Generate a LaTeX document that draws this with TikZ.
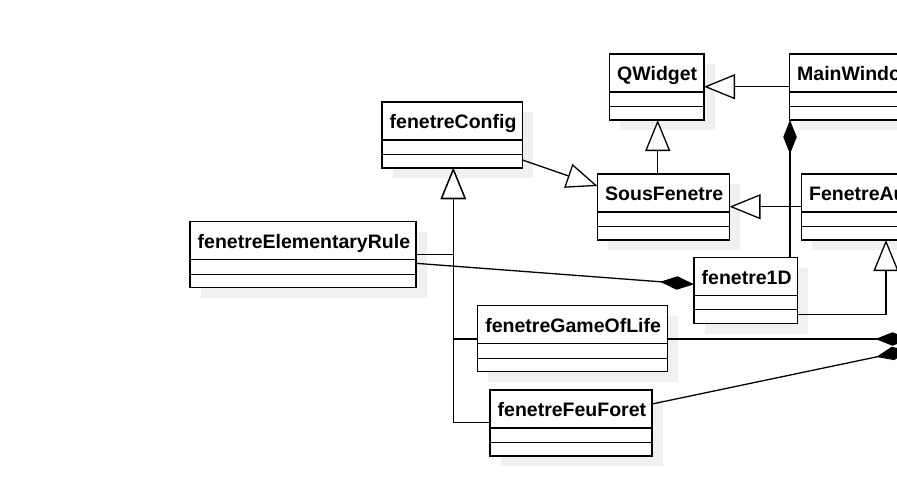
\documentclass[tikz,border=0pt]{standalone}
\usepackage{fontspec}
\setmainfont{Liberation Sans}
\usetikzlibrary{arrows.meta}
\definecolor{shadowc}{HTML}{F0F0F0}
\newcommand{\umlclass}[5]{%
  \fill[shadowc] ({#2+10.5},{#3+10.3}) rectangle ({#4+10.5},{#3+76.3});
  \node[clsbox, anchor=north west, minimum width={#4-#2}] (#1) at (#2,#3) {};
  \draw[lw] (#2,{#3+38}) -- (#4,{#3+38});
  \draw[lw] (#2,{#3+52.5}) -- (#4,{#3+52.5});
  \node[clstitle] (#1-t) at ({#2+7.5},{#3+26.8}) {#5};
}
\begin{document}
\begin{tikzpicture}[x=1pt,y=-1pt,
  lw/.style={line width=1.3pt},
  clsbox/.style={draw, fill=white, line width=1.3pt, rectangle, inner sep=0pt, outer sep=0pt, minimum height=66pt},
  clstitle/.style={anchor=base west, inner sep=0pt, font=\fontsize{19.5}{23}\selectfont\bfseries},
  inh/.style={line width=1.3pt, -{Triangle[fill=white, length=31pt, width=25pt]}},
  comp/.style={line width=1.3pt, -{Diamond[fill=black, length=34pt, width=13.5pt]}},
]
\useasboundingbox (0,0) rectangle (897,477);
\clip (0,0) rectangle (897,477);

\umlclass{QWidget}{609.5}{54}{704}{QWidget}
\umlclass{MainWindow}{789.5}{54}{990}{MainWindow}
\umlclass{fenetreConfig}{382}{102}{522.5}{fenetreConfig}
\umlclass{SousFenetre}{597.5}{174}{729.5}{SousFenetre}
\umlclass{FenetreAutomate}{801.5}{174}{1010}{FenetreAutomate}
\umlclass{fenetreElementaryRule}{190}{221.7}{416}{fenetreElementaryRule}
\umlclass{fenetre1D}{694}{257.3}{797.5}{fenetre1D}
\umlclass{fenetreGameOfLife}{477.7}{305.7}{667.3}{fenetreGameOfLife}
\umlclass{fenetreFeuForet}{490}{390}{652}{fenetreFeuForet}

\coordinate (offA) at (909.5,339);
\coordinate (offB) at (909.5,350);

\draw[inh] (MainWindow.west |- 0,86.7) -- (QWidget.east |- 0,86.7);
\draw[inh] (SousFenetre.north -| 657.7,0) -- (QWidget.south -| 657.7,0);
\draw[inh] (FenetreAutomate.west |- 0,206.7) -- (SousFenetre.east |- 0,206.7);
\draw[inh] (fenetreConfig.east |- 0,160) -- (SousFenetre.west |- 0,186);
\draw[inh] (fenetreElementaryRule.east |- 0,254.3) -| (fenetreConfig.south -| 453.3,0);
\draw[inh] (fenetreGameOfLife.west |- 0,339) -| (fenetreConfig.south -| 453.3,0);
\draw[inh] (fenetreFeuForet.west |- 0,422.7) -| (fenetreConfig.south -| 453.3,0);
\draw[comp] (fenetreElementaryRule.east |- 0,263.3) -- (fenetre1D.west |- 0,284.3);
\draw[comp] (fenetre1D.north -| 790,0) -- (MainWindow.south -| 790,0);
\draw[inh] (fenetre1D.east |- 0,314.3) -| (FenetreAutomate.south -| 886,0);
\draw[comp] (fenetreGameOfLife.east |- 0,339) -- (offA);
\draw[comp] (fenetreFeuForet.east |- 0,404) -- (offB);
\end{tikzpicture}
\end{document}
